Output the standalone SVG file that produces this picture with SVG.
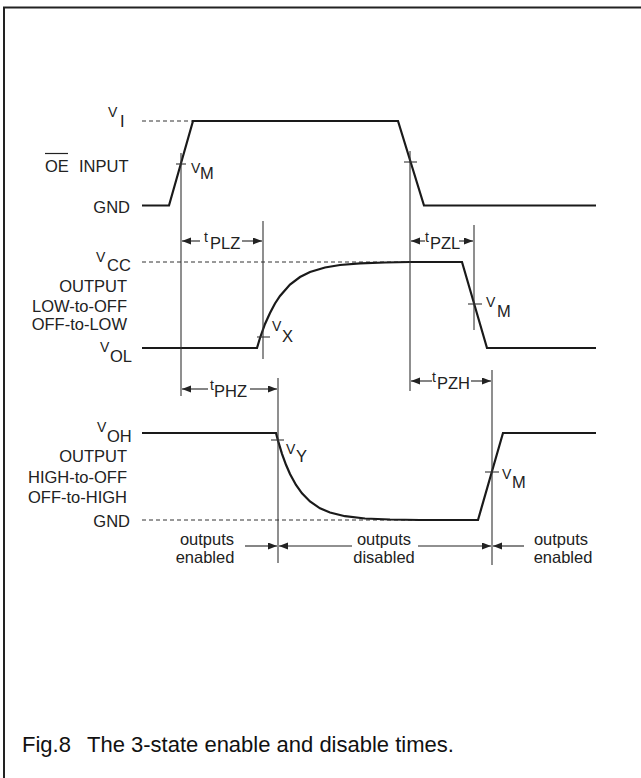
<svg xmlns="http://www.w3.org/2000/svg" width="641" height="778" viewBox="0 0 641 778">
<defs>
<style>
text{font-family:"Liberation Sans",Arial,sans-serif;fill:#222;}
.l{font-size:16.5px;}
.s{font-size:14px;}
.e{text-anchor:end;}
.m{text-anchor:middle;}
.cap{font-size:22px;fill:#111;}
.w{fill:none;stroke:#1a1a1a;stroke-width:2.2;stroke-linejoin:miter;}
.v{fill:none;stroke:#333;stroke-width:1.1;}
.d{fill:none;stroke:#333;stroke-width:1;stroke-dasharray:4 3;}
.a{fill:none;stroke:#222;stroke-width:1.1;marker-end:url(#ah);}
</style>
<marker id="ah" markerUnits="userSpaceOnUse" markerWidth="10" markerHeight="8" refX="9" refY="3.5" orient="auto">
<path d="M0,0 L9,3.5 L0,7 z" fill="#222"/>
</marker>
</defs>
<rect x="0" y="0" width="641" height="778" fill="#fff"/>
<rect x="4" y="7.5" width="700" height="820" fill="none" stroke="#222" stroke-width="2"/>

<g id="labels-oe">
<text class="s" x="108" y="117">V</text><text class="l" x="120" y="127">I</text>
<text class="l" x="45" y="172">OE</text>
<line x1="45" y1="153.5" x2="68" y2="153.5" stroke="#222" stroke-width="1.2"/>
<text class="l" x="79" y="172">INPUT</text>
<text class="l e" x="130" y="213">GND</text>
</g>

<g id="labels-low">
<text class="s" x="96" y="262">V</text><text class="l" x="107" y="271">CC</text>
<text class="l e" x="127" y="292">OUTPUT</text>
<text class="l e" x="127" y="312">LOW-to-OFF</text>
<text class="l e" x="127" y="330">OFF-to-LOW</text>
<text class="s" x="100" y="352">V</text><text class="l" x="110" y="362">OL</text>
</g>

<g id="labels-high">
<text class="s" x="97" y="432">V</text><text class="l" x="107" y="442">OH</text>
<text class="l e" x="127" y="462">OUTPUT</text>
<text class="l e" x="127" y="483">HIGH-to-OFF</text>
<text class="l e" x="127" y="503">OFF-to-HIGH</text>
<text class="l e" x="130" y="527">GND</text>
</g>

<g id="wave-oe">
<line class="d" x1="142" y1="121" x2="193" y2="121"/>
<path class="w" d="M142,205.5 H169 L193,121 H398 L424,205.5 H596"/>
<line class="v" x1="176" y1="164" x2="186" y2="164"/>
<line class="v" x1="404" y1="162" x2="417" y2="162"/>
<text class="s" x="191" y="173">V</text><text class="l" x="200" y="179">M</text>
</g>

<g id="wave-low">
<line class="d" x1="142" y1="262" x2="410" y2="262"/>
<path class="w" d="M142,348 H257 L260,338 L265,324 L270,313 L275,303.5 L280,296 L290,284.6 L300,277 L310,272 L325,267.5 L340,265 L360,263.3 L385,262.5 L410,262 H462 L487,348 H596"/>
<line class="v" x1="257" y1="337" x2="270" y2="337"/>
<text class="s" x="272" y="331">V</text><text class="l" x="282" y="342">X</text>
<line class="v" x1="468" y1="304" x2="482" y2="304"/>
<text class="s" x="486" y="307">V</text><text class="l" x="497" y="317">M</text>
</g>

<g id="wave-high">
<line class="d" x1="142" y1="520" x2="420" y2="520"/>
<path class="w" d="M142,433 H276 L278,440.6 L282,453.8 L286,464.8 L290,474 L296,485 L302,493.3 L310,501.5 L320,508.3 L330,512.5 L345,516.2 L365,518.5 L390,519.5 L420,520 H478 L503,433 H596"/>
<line class="v" x1="271" y1="440" x2="284" y2="440"/>
<text class="s" x="286" y="454">V</text><text class="l" x="296" y="462">Y</text>
<line class="v" x1="485" y1="472" x2="499" y2="472"/>
<text class="s" x="502" y="479">V</text><text class="l" x="512" y="488">M</text>
</g>

<g id="connectors">
<line class="v" x1="181" y1="153" x2="181" y2="396"/>
<line class="v" x1="410" y1="151" x2="410" y2="391"/>
<line class="v" x1="263" y1="221" x2="263" y2="359"/>
<line class="v" x1="474" y1="225" x2="474" y2="330"/>
<line class="v" x1="278" y1="378" x2="278" y2="563"/>
<line class="v" x1="492" y1="370" x2="492" y2="565"/>

<line class="a" x1="200" y1="241" x2="182" y2="241"/>
<line class="a" x1="242" y1="241" x2="262" y2="241"/>
<line class="a" x1="425" y1="241" x2="411" y2="241"/>
<line class="a" x1="459" y1="241" x2="473" y2="241"/>
<line class="a" x1="208" y1="389" x2="182" y2="389"/>
<line class="a" x1="250" y1="389" x2="277" y2="389"/>
<line class="a" x1="432" y1="381" x2="411" y2="381"/>
<line class="a" x1="471" y1="381" x2="491" y2="381"/>

<line class="a" x1="245" y1="546" x2="277" y2="546"/>
<line class="a" x1="352" y1="546" x2="279" y2="546"/>
<line class="a" x1="418" y1="546" x2="491" y2="546"/>
<line class="a" x1="524" y1="546" x2="493" y2="546"/>
</g>

<g id="timing-labels">
<text class="s" x="204" y="242">t</text><text class="l" x="210" y="249">PLZ</text>
<text class="s" x="425" y="242">t</text><text class="l" x="430" y="249">PZL</text>
<text class="s" x="210" y="390">t</text><text class="l" x="214" y="397">PHZ</text>
<text class="s" x="432" y="382">t</text><text class="l" x="437" y="389">PZH</text>
<text class="l m" x="207" y="545">outputs</text>
<text class="l m" x="205" y="563">enabled</text>
<text class="l m" x="384" y="545">outputs</text>
<text class="l m" x="384" y="563">disabled</text>
<text class="l m" x="561" y="545">outputs</text>
<text class="l m" x="563" y="563">enabled</text>
</g>

<g id="caption">
<text class="cap" x="22" y="752">Fig.8</text>
<text class="cap" x="87" y="752">The 3-state enable and disable times.</text>
</g>
</svg>
